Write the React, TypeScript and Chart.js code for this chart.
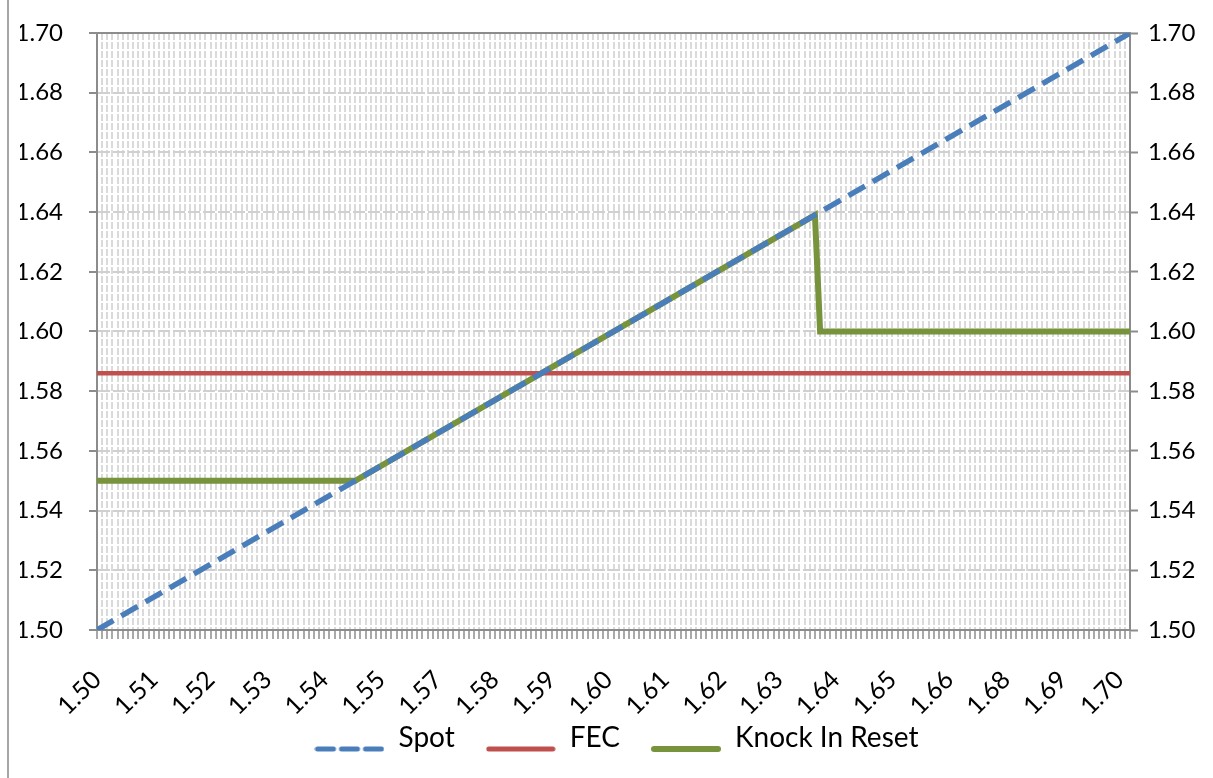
import { useEffect, useRef } from 'react';
import { Chart, registerables } from 'chart.js';

Chart.register(...registerables);

// Axis definitions
const X_MIN = 1.5;
const X_MAX = 1.7;
const X_STEP = 0.001; // one category per 0.001
const X_LABEL_EVERY = 11;
const X_LABELS = ['1.50', '1.51', '1.52', '1.53', '1.54', '1.55', '1.57', '1.58', '1.59', '1.60', '1.61', '1.62', '1.63', '1.64', '1.65', '1.66', '1.68', '1.69', '1.70'];
const Y_MIN = 1.5;
const Y_MAX = 1.7;
const Y_STEP = 0.02;

// Series (break points)
const SPOT_X = [1.5, 1.7];
const SPOT_Y = [1.5, 1.7];
const FEC_X = [1.5, 1.7];
const FEC_Y = [1.586, 1.586];
const KIR_X = [1.5, 1.55, 1.639, 1.64, 1.7];
const KIR_Y = [1.55, 1.55, 1.639, 1.6, 1.6];

const pts = (xs: number[], ys: number[]) => xs.map((x, i) => ({ x, y: ys[i] }));

const FONT = 'Lato';
const AXIS_GRAY = '#8C8C8C';
const SPOT_COLOR = '#4A7EBB';
const FEC_COLOR = '#C0504D';
const KIR_COLOR = '#77933C';

const topBorder = {
  id: 'topBorder',
  beforeDatasetsDraw(chart: any) {
    const { ctx, chartArea } = chart;
    ctx.save();
    ctx.strokeStyle = AXIS_GRAY;
    ctx.lineWidth = 2;
    ctx.beginPath();
    ctx.moveTo(chartArea.left, chartArea.top);
    ctx.lineTo(chartArea.right, chartArea.top);
    ctx.stroke();
    ctx.restore();
  },
};

// legend swatch: a line drawn a little below the text's centre line
function swatch(color: string, width: number, dash: number[]) {
  const c = document.createElement('canvas');
  c.width = 70;
  c.height = 44;
  const g = c.getContext('2d')!;
  g.strokeStyle = color;
  g.lineWidth = width;
  g.lineCap = 'round';
  g.setLineDash(dash);
  g.beginPath();
  g.moveTo(3, 33);
  g.lineTo(67, 33);
  g.stroke();
  return c;
}

export default function App() {
  const ref = useRef<HTMLCanvasElement | null>(null);

  useEffect(() => {
    if (!ref.current) return;
    const yTicks = {
      stepSize: Y_STEP,
      color: '#000',
      font: { family: FONT, size: 24 },
      callback: (v: any) => Number(v).toFixed(2),
    };
    const chart = new Chart(ref.current, {
      type: 'line',
      data: {
        datasets: [
          {
            label: 'Spot',
            data: pts(SPOT_X, SPOT_Y),
            borderColor: SPOT_COLOR,
            backgroundColor: SPOT_COLOR,
            borderWidth: 5.5,
            borderDash: [19, 9],
            pointRadius: 0,
            pointStyle: swatch(SPOT_COLOR, 5, [16, 8]),
          },
          {
            label: 'FEC',
            data: pts(FEC_X, FEC_Y),
            borderColor: FEC_COLOR,
            backgroundColor: FEC_COLOR,
            borderWidth: 4.5,
            pointRadius: 0,
            pointStyle: swatch(FEC_COLOR, 5, []),
          },
          {
            label: 'Knock In Reset',
            data: pts(KIR_X, KIR_Y),
            borderColor: KIR_COLOR,
            backgroundColor: KIR_COLOR,
            borderWidth: 6,
            pointRadius: 0,
            pointStyle: swatch(KIR_COLOR, 6, []),
          },
        ],
      },
      options: {
        animation: false,
        responsive: false,
        maintainAspectRatio: false,
        layout: { padding: { left: 20, right: 0, top: 33, bottom: 16 } },
        plugins: {
          legend: {
            position: 'bottom',
            labels: {
              usePointStyle: true,
              pointStyleWidth: 70,
              color: '#000',
              font: { family: FONT, size: 28 },
              padding: 31,
            },
          },
          tooltip: { enabled: false },
        },
        scales: {
          x: {
            type: 'linear',
            min: X_MIN,
            max: X_MAX,
            afterFit: (s: any) => {
              s.height = 63;
              s.paddingLeft = 0;
              s.paddingRight = 0;
              s._computeLabelArea = () => undefined; // let rotated labels overflow
            },
            ticks: {
              stepSize: X_STEP,
              autoSkip: false,
              minRotation: 45,
              maxRotation: 45,
              padding: 26,
              color: '#000',
              font: { family: FONT, size: 25 },
              callback: (_v: any, i: number) => (i % X_LABEL_EVERY === 0 ? X_LABELS[i / X_LABEL_EVERY] ?? '' : ''),
            },
            grid: { color: '#DADADA', lineWidth: 2, tickColor: AXIS_GRAY, tickLength: 9, tickWidth: 1.5 },
            border: { display: true, color: AXIS_GRAY, width: 2, dash: [7, 2] },
          },
          y: {
            position: 'left',
            min: Y_MIN,
            max: Y_MAX,
            afterFit: (s: any) => {
              s.width = 77;
              s.paddingTop = 0;
              s.paddingBottom = 0;
            },
            ticks: { ...yTicks, padding: 26 },
            grid: { color: '#D0D0D0', lineWidth: 2, tickColor: AXIS_GRAY, tickLength: 8, tickWidth: 2 },
            border: { display: true, color: AXIS_GRAY, width: 2, dash: [12, 3] },
          },
          y2: {
            position: 'right',
            min: Y_MIN,
            max: Y_MAX,
            afterFit: (s: any) => {
              s.width = 83;
              s.paddingTop = 0;
              s.paddingBottom = 0;
            },
            ticks: { ...yTicks, padding: 10 },
            grid: { drawOnChartArea: false, tickColor: AXIS_GRAY, tickLength: 8, tickWidth: 2 },
            border: { display: true, color: AXIS_GRAY, width: 2 },
          },
        },
      },
      plugins: [topBorder],
    } as any);
    return () => chart.destroy();
  }, []);

  return (
    <div style={{ position: 'absolute', left: 0, top: 0, width: 1213, height: 778, background: '#fff' }}>
      <canvas ref={ref} width={1213} height={778} style={{ display: 'block', width: 1213, height: 778 }} />
      <div style={{ position: 'absolute', left: 7, top: 0, width: 2, height: 778, background: '#A6A6A6' }} />
    </div>
  );
}
